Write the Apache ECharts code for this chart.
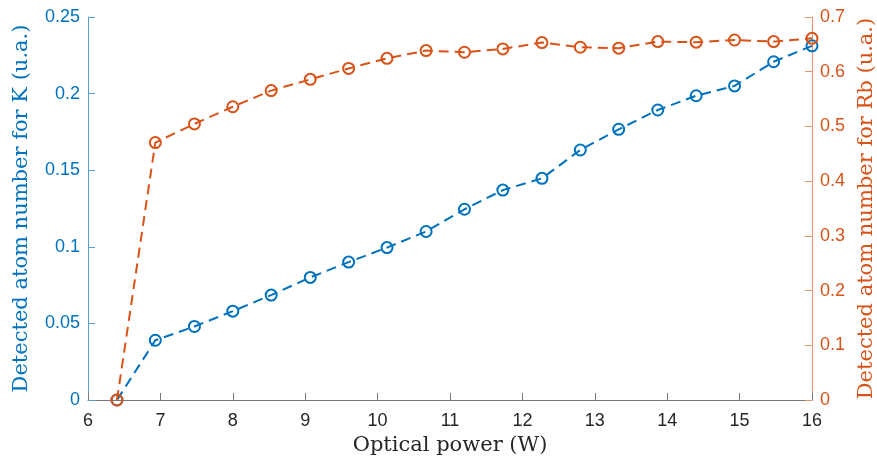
<!DOCTYPE html>
<html><head><meta charset="utf-8">
<script src="https://cdn.jsdelivr.net/npm/echarts@6/dist/echarts.min.js"></script>
<style>html,body{margin:0;padding:0;background:#fff}#c{width:877px;height:459px}</style>
</head><body><div id="c"></div>
<script>
const power = [6.4, 6.93, 7.47, 8.0, 8.53, 9.07, 9.6, 10.13, 10.67, 11.2, 11.73, 12.27, 12.8, 13.33, 13.87, 14.4, 14.93, 15.47, 16.0];
const atomsK = [0, 0.039, 0.048, 0.058, 0.0685, 0.080, 0.090, 0.0995, 0.110, 0.1245, 0.137, 0.1447, 0.1632, 0.1767, 0.1893, 0.1986, 0.205, 0.2208, 0.2312];
const atomsRb = [0, 0.4705, 0.5046, 0.536, 0.5655, 0.586, 0.606, 0.6245, 0.6386, 0.6356, 0.6417, 0.6532, 0.6447, 0.643, 0.655, 0.654, 0.658, 0.655, 0.661];
const xTitle = 'Optical power (W)';
const yLeftTitle = 'Detected atom number for K (u.a.)';
const yRightTitle = 'Detected atom number for Rb (u.a.)';

const BLUE = '#0072BD', RED = '#D95319';
const serif = '"DejaVu Serif", "Liberation Serif", serif';
const sans = '"Liberation Sans", Arial, sans-serif';

const chart = echarts.init(document.getElementById('c'), null, {renderer: 'canvas'});
chart.setOption({
  animation: false,
  backgroundColor: '#fff',
  grid: {left: 88, right: 65, top: 17, bottom: 59, containLabel: false, outerBoundsMode: 'none'},
  xAxis: {
    type: 'value', min: 6, max: 16, interval: 1,
    name: xTitle, nameLocation: 'middle', nameGap: 34,
    nameTextStyle: {fontFamily: serif, fontSize: 21, color: '#262626'},
    axisLine: {lineStyle: {color: '#777', width: 1}},
    axisTick: {inside: true, length: 7, lineStyle: {color: '#777'}},
    axisLabel: {fontFamily: sans, fontSize: 18, color: '#262626', margin: 12},
    splitLine: {show: false}
  },
  yAxis: [{
    type: 'value', min: 0, max: 0.25, interval: 0.05, position: 'left',
    name: yLeftTitle, nameLocation: 'middle', nameGap: 56,
    nameTextStyle: {fontFamily: serif, fontSize: 21, color: BLUE},
    axisLine: {show: true, lineStyle: {color: '#5A9FD6', width: 1}},
    axisTick: {show: true, inside: true, length: 7, lineStyle: {color: '#5A9FD6'}},
    axisLabel: {fontFamily: sans, fontSize: 18, color: BLUE, margin: 8},
    splitLine: {show: false}
  }, {
    type: 'value', min: 0, max: 0.7, interval: 0.1, position: 'right',
    name: yRightTitle, nameLocation: 'middle', nameGap: 44, nameRotate: 90,
    nameTextStyle: {fontFamily: serif, fontSize: 21, color: RED},
    axisLine: {show: true, lineStyle: {color: '#E8946C', width: 1}},
    axisTick: {show: true, inside: true, length: 7, lineStyle: {color: '#E8946C'}},
    axisLabel: {fontFamily: sans, fontSize: 18, color: RED, margin: 8},
    splitLine: {show: false}
  }],
  series: [{
    type: 'line', yAxisIndex: 0,
    data: power.map((x, i) => [x, atomsK[i]]),
    symbol: 'circle', symbolSize: 11,
    itemStyle: {color: 'rgba(0,0,0,0)', borderColor: BLUE, borderWidth: 2},
    lineStyle: {color: BLUE, width: 2, type: [10, 6]},
    z: 2
  }, {
    type: 'line', yAxisIndex: 1,
    data: power.map((x, i) => [x, atomsRb[i]]),
    symbol: 'circle', symbolSize: 11,
    itemStyle: {color: 'rgba(0,0,0,0)', borderColor: RED, borderWidth: 2},
    lineStyle: {color: RED, width: 2, type: [10, 6]},
    z: 3
  }]
});
</script></body></html>
